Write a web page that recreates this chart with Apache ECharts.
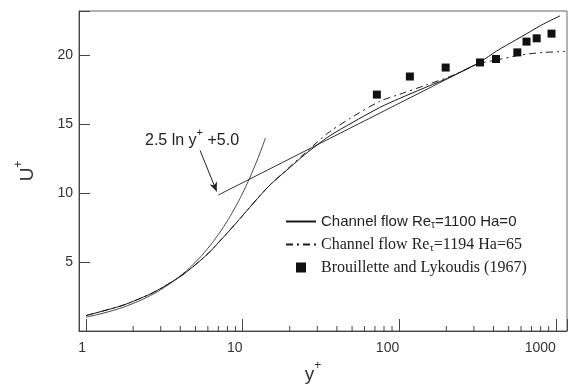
<!DOCTYPE html>
<html>
<head>
<meta charset="utf-8">
<script src="https://cdn.jsdelivr.net/npm/echarts@6/dist/echarts.min.js"></script>
<style>
  html, body { margin: 0; padding: 0; background: #fff; }
  #chart { width: 577px; height: 392px; }
</style>
</head>
<body>
<div id="chart"></div>
<script>
// channel flow Re_tau=1100, Ha=0 (solid)
const yPlusHa0 = [1, 1.65, 2, 2.7, 3.4, 4, 4.75, 6, 7.4, 8.5, 10.6, 13, 15, 20, 25, 30, 36, 50, 75, 100, 150, 211, 328, 419, 565, 650, 832, 1064];
const uHa0 = [1.12, 1.8, 2.15, 2.8, 3.45, 3.95, 4.6, 5.6, 6.7, 7.45, 8.7, 9.85, 10.6, 11.85, 12.8, 13.5, 14.15, 15.1, 16.2, 16.85, 17.7, 18.4, 19.5, 20.3, 21.15, 21.55, 22.25, 22.85];

// channel flow Re_tau=1194, Ha=65 (dash-dot)
const yPlusHa65 = [1, 1.65, 2, 2.7, 3.4, 4, 4.75, 6, 7.4, 8.5, 10.6, 13, 15, 20, 25, 30, 36, 50, 75, 100, 150, 211, 328, 419, 563, 684, 850, 1064, 1148];
const uHa65 = [1.12, 1.8, 2.15, 2.8, 3.45, 3.95, 4.6, 5.6, 6.7, 7.45, 8.7, 9.85, 10.6, 11.9, 12.9, 13.7, 14.45, 15.5, 16.65, 17.15, 17.85, 18.45, 19.4, 19.65, 19.95, 20.1, 20.2, 20.25, 20.27];

// Brouillette and Lykoudis (1967)
const yPlusExp = [72, 117, 198, 328, 415, 568, 650, 755, 939];
const uExp = [17.14, 18.45, 19.1, 19.47, 19.72, 20.2, 20.98, 21.22, 21.56];

// viscous sublayer line U+ = y+
const yPlusLin = [1, 1.5, 2, 2.5, 3, 4, 5, 6, 7, 8, 9, 10, 11, 12, 13, 14];
const uLin = [1, 1.5, 2, 2.5, 3, 4, 5, 6, 7, 8, 9, 10, 11, 12, 13, 14];

// log law line 2.5 ln y+ + 5.0
const yPlusLog = [7, 300];
const uLog = [9.86, 19.26];

// annotation arrow (data coords)
const arrowFrom = [5.35, 13.09];
const arrowTo = [6.83, 10.12];

// minor ticks on the log axis
const minorTicks = [2, 3, 4, 5, 6, 7, 8, 9, 20, 30, 40, 50, 60, 70, 80, 90, 200, 300, 400, 500, 600, 700, 800, 900];

const zip = (a, b) => a.map((v, i) => [v, b[i]]);

const legendText = {
  'Ha0': '{a|Channel flow Re}{sa|τ}{a|=1100 Ha=0}',
  'Ha65': '{b|Channel flow Re}{sb|τ}{b|=1194 Ha=65}',
  'BL': '{b|Brouillette and Lykoudis (1967)}'
};

const axisCol = '#444';
const textCol = '#333';
const lineCol = '#1a1a1a';

const chart = echarts.init(document.getElementById('chart'));

chart.setOption({
  animation: false,
  backgroundColor: '#fff',
  grid: {
    left: 79, right: 10, top: 11, bottom: 61,
    show: true, borderColor: '#666', borderWidth: 1
  },
  xAxis: {
    type: 'log',
    logBase: 10,
    min: 0.902,
    max: 1179,
    name: '{y|y}{s|+}',
    nameLocation: 'middle',
    nameGap: 22,
    nameTextStyle: {
      padding: [0, 20, 0, 0],
      rich: {
        y: { fontFamily: 'Liberation Sans', fontSize: 19, color: textCol, lineHeight: 24, verticalAlign: 'bottom' },
        s: { fontFamily: 'Liberation Sans', fontSize: 12, color: textCol, lineHeight: 12, verticalAlign: 'top' }
      }
    },
    axisLine: { lineStyle: { color: axisCol, width: 1 } },
    axisTick: { inside: true, length: 12, lineStyle: { color: axisCol } },
    axisLabel: {
      interval: 0,
      align: 'right',
      margin: 10,
      fontFamily: 'Liberation Sans',
      fontSize: 14,
      color: textCol,
      formatter: function (v) {
        const l = Math.log10(v);
        return Math.abs(l - Math.round(l)) < 1e-6 ? String(Math.round(v)) : '';
      }
    },
    splitLine: { show: false }
  },
  yAxis: {
    type: 'value',
    min: 0,
    max: 23.2,
    interval: 5,
    name: '{u|U}{s|+}',
    nameLocation: 'middle',
    nameGap: 42,
    nameTextStyle: {
      rich: {
        u: { fontFamily: 'Liberation Sans', fontSize: 19, color: textCol, lineHeight: 24, verticalAlign: 'bottom' },
        s: { fontFamily: 'Liberation Sans', fontSize: 12, color: textCol, lineHeight: 12, verticalAlign: 'top' }
      }
    },
    axisLine: { lineStyle: { color: axisCol, width: 1 } },
    axisTick: { inside: true, length: 11, lineStyle: { color: axisCol } },
    axisLabel: {
      margin: 6,
      fontFamily: 'Liberation Sans',
      fontSize: 14,
      color: textCol,
      formatter: function (v) { return (v > 0 && v % 5 === 0) ? String(v) : ''; }
    },
    splitLine: { show: false }
  },
  legend: {
    orient: 'vertical',
    left: 285,
    top: 214,
    padding: 0,
    itemWidth: 30,
    itemHeight: 10,
    itemGap: 6,
    data: [
      { name: 'Ha0', itemStyle: { opacity: 0 } },
      { name: 'Ha65', itemStyle: { opacity: 0 } },
      { name: 'BL', icon: 'path://M0,0L10,0L10,10L0,10Z', itemStyle: { color: '#111', opacity: 1 } }
    ],
    formatter: function (name) { return legendText[name]; },
    textStyle: {
      rich: {
        a: { fontFamily: 'Liberation Sans', fontSize: 15, color: '#222', lineHeight: 18 },
        sa: { fontFamily: 'Liberation Sans', fontSize: 10, color: '#222', lineHeight: 10, verticalAlign: 'bottom' },
        b: { fontFamily: 'Liberation Serif', fontSize: 16, color: '#222', lineHeight: 18 },
        sb: { fontFamily: 'Liberation Serif', fontSize: 11, color: '#222', lineHeight: 10, verticalAlign: 'bottom' }
      }
    }
  },
  graphic: [{
    type: 'text',
    left: 145,
    top: 127,
    style: {
      text: '{t|2.5 ln y}{s|+}{t| +5.0}',
      rich: {
        t: { fontFamily: 'Liberation Sans', fontSize: 16, fill: '#222', lineHeight: 22, verticalAlign: 'bottom' },
        s: { fontFamily: 'Liberation Sans', fontSize: 11, fill: '#222', lineHeight: 11, verticalAlign: 'top' }
      }
    }
  }],
  series: [
    {
      name: 'lin',
      type: 'line',
      data: zip(yPlusLin, uLin),
      symbol: 'none',
      smooth: true,
      lineStyle: { color: '#444', width: 1 },
      z: 2
    },
    {
      name: 'loglaw',
      type: 'line',
      data: zip(yPlusLog, uLog),
      symbol: 'none',
      lineStyle: { color: '#333', width: 1 },
      z: 2,
      markLine: {
        silent: true,
        symbol: ['none', 'arrow'],
        symbolSize: [6, 9],
        label: { show: false },
        lineStyle: { color: '#222', width: 1, type: 'solid' },
        data: [[{ coord: arrowFrom }, { coord: arrowTo }]]
      }
    },
    {
      name: 'Ha0',
      type: 'line',
      data: zip(yPlusHa0, uHa0),
      symbol: 'none',
      smooth: 0.3,
      lineStyle: { color: lineCol, width: 1 },
      itemStyle: { color: lineCol },
      z: 3
    },
    {
      name: 'Ha65',
      type: 'line',
      data: zip(yPlusHa65, uHa65),
      symbol: 'none',
      smooth: 0.3,
      lineStyle: { color: lineCol, width: 1, type: [7, 4, 2, 4] },
      itemStyle: { color: lineCol },
      z: 3
    },
    {
      name: 'BL',
      type: 'scatter',
      data: zip(yPlusExp, uExp),
      symbol: 'rect',
      symbolSize: 8,
      itemStyle: { color: '#111', opacity: 1 },
      z: 4
    },
    {
      name: 'minor',
      type: 'custom',
      data: minorTicks.map(v => [v, 0]),
      clip: false,
      silent: true,
      renderItem: function (params, api) {
        const p = api.coord([api.value(0), 0]);
        return {
          type: 'line',
          shape: { x1: p[0], y1: p[1], x2: p[0], y2: p[1] - 5 },
          style: { stroke: axisCol, lineWidth: 1 }
        };
      },
      z: 5
    }
  ]
});
</script>
</body>
</html>
